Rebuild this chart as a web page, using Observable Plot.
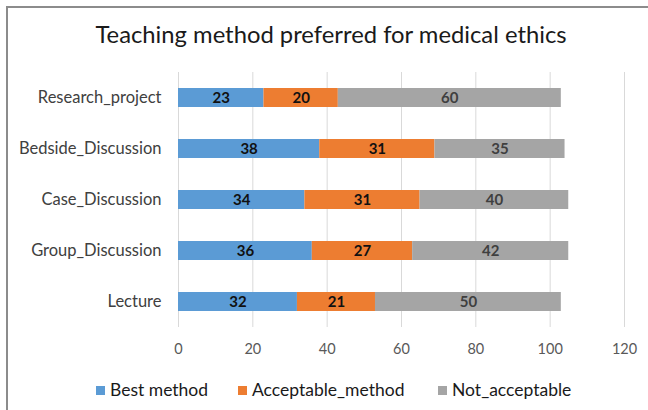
<!DOCTYPE html>
<html>
<head>
<meta charset="utf-8">
<script src="https://cdn.jsdelivr.net/npm/d3@7"></script>
<script src="https://cdn.jsdelivr.net/npm/@observablehq/plot@0.6"></script>
<style>
  html, body { margin: 0; padding: 0; background: #fff; }
  #wrap { position: relative; width: 648px; height: 410px; overflow: hidden; font-family: Lato, "Open Sans", sans-serif; }
  #frame { position: absolute; left: 6px; top: 6px; width: 660px; height: 420px; border-left: 2px solid #8c8c8c; border-top: 2px solid #8c8c8c; }
  #title { position: absolute; left: 0; width: 662px; top: 20px; text-align: center; font-size: 23.8px; color: #1a1a1a; }
  #chart { position: absolute; left: 0; top: 60px; }
  .leg { position: absolute; top: 379px; font-size: 17.5px; line-height: 22px; color: #1a1a1a; white-space: nowrap; }
  .sw { position: absolute; top: 7px; width: 9px; height: 9px; }
</style>
</head>
<body>
<div id="wrap">
  <div id="frame"></div>
  <div id="title">Teaching method preferred for medical ethics</div>
  <div id="chart"></div>
  <div id="legend"></div>
</div>
<script>
const categories = ["Research_project", "Bedside_Discussion", "Case_Discussion", "Group_Discussion", "Lecture"];
const seriesNames = ["Best method", "Acceptable_method", "Not_acceptable"];
const bestMethod = [23, 38, 34, 36, 32];
const acceptableMethod = [20, 31, 31, 27, 21];
const notAcceptable = [60, 35, 40, 42, 50];
const xTicks = [0, 20, 40, 60, 80, 100, 120];
const colors = ["#5b9bd5", "#ed7d31", "#a5a5a5"];
const labelColors = ["#111111", "#111111", "#3f3f3f"];

const seriesValues = [bestMethod, acceptableMethod, notAcceptable];
const data = [];
seriesNames.forEach((s, si) => {
  categories.forEach((c, ci) => {
    data.push({category: c, series: s, value: seriesValues[si][ci]});
  });
});

const chart = Plot.plot({
  width: 648,
  height: 305,
  marginLeft: 178,
  marginRight: 24,
  marginTop: 12,
  marginBottom: 38,
  style: {fontFamily: "Lato, 'Open Sans', sans-serif", fontSize: "14px", color: "#404040", background: "transparent"},
  x: {domain: [0, 120], ticks: xTicks, label: null},
  y: {domain: categories, paddingInner: 0.63, paddingOuter: 0.315, label: null},
  color: {domain: seriesNames, range: colors},
  marks: [
    Plot.ruleX(xTicks, {stroke: "#d9d9d9", strokeWidth: 1}),
    Plot.barX(data, Plot.stackX({x: "value", y: "category", fill: "series"})),
    Plot.text(data, Plot.stackX({
      x: "value", y: "category", text: d => String(d.value),
      fill: d => labelColors[seriesNames.indexOf(d.series)],
      fontWeight: "bold", fontSize: 15
    })),
    Plot.axisX({ticks: xTicks, tickSize: 0, tickPadding: 16, stroke: "none", color: "#595959", fontSize: 14.5, label: null}),
    Plot.axisY({tickSize: 0, tickPadding: 17, color: "#404040", fontSize: 16.5, label: null})
  ]
});
document.getElementById("chart").appendChild(chart);

const legendSwatchX = [96, 238, 438];
const legend = document.getElementById("legend");
seriesNames.forEach((s, i) => {
  const d = document.createElement("div");
  d.className = "leg";
  d.style.left = legendSwatchX[i] + "px";
  d.innerHTML = `<span class="sw" style="left:0;background:${colors[i]}"></span><span style="margin-left:14px">${s}</span>`;
  legend.appendChild(d);
});
</script>
</body>
</html>
